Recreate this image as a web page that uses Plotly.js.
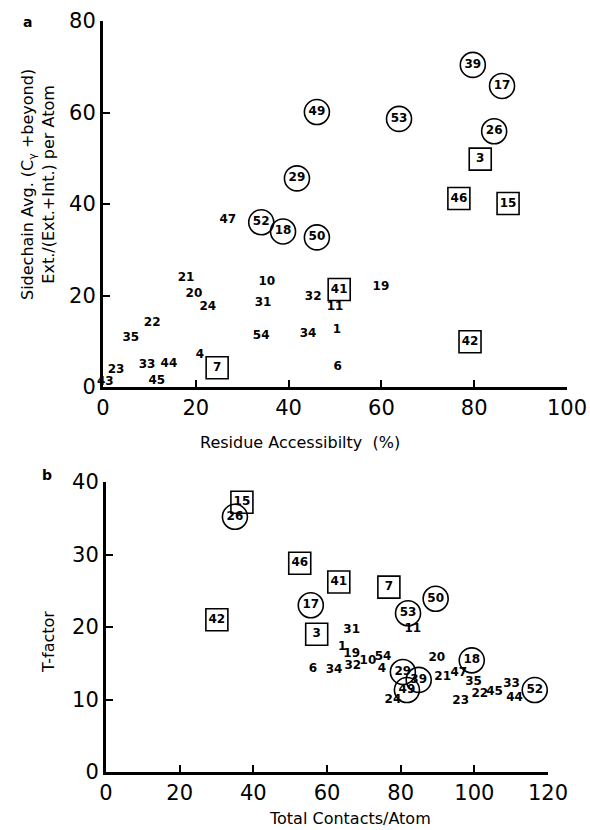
<!DOCTYPE html>
<html>
<head>
<meta charset="utf-8">
<script src="https://cdn.plot.ly/plotly-3.0.1.min.js"></script>
<style>html,body{margin:0;padding:0;background:#fff;}#chart{width:590px;height:830px;}</style>
</head>
<body>
<div id="chart"></div>
<script>
// Panel a: residue accessibility (%) vs sidechain exterior fraction
const aLabels = ["39","17","49","53","26","29","3","46","15","50","52","18","47","41","21","10","20","32","24","31","11","19","22","35","54","34","1","42","4","7","33","44","23","6","45","43"];
const aX      = [79.7, 86.0, 46.1, 63.8, 84.3, 41.8, 81.3, 76.7, 87.3, 46.1, 34.1, 38.8, 26.9, 50.9, 17.9, 35.3, 19.6, 45.3, 22.6, 34.5, 50.0, 59.9, 10.6, 6.0, 34.1, 44.2, 50.4, 79.1, 20.9, 24.6, 9.5, 14.2, 2.8, 50.6, 11.6, 0.5];
const aY      = [70.4, 65.8, 60.1, 58.6, 55.9, 45.6, 49.8, 41.2, 40.1, 32.7, 36.0, 34.0, 36.4, 21.3, 23.9, 23.0, 20.4, 19.7, 17.4, 18.4, 17.5, 21.8, 14.0, 10.8, 11.2, 11.6, 12.5, 9.9, 7.0, 4.2, 4.8, 5.0, 3.7, 4.4, 1.3, 1.0];
const aShape  = ["circle","circle","circle","circle","circle","circle","square","square","square","circle","circle","circle","none","square","none","none","none","none","none","none","none","none","none","none","none","none","none","square","none","square","none","none","none","none","none","none"];

// Panel b: total contacts per atom vs T-factor
const bLabels = ["15","26","46","41","7","17","50","53","42","3","31","11","1","19","20","18","54","10","32","34","6","4","29","39","21","47","35","49","24","23","22","45","33","44","52","49"];
const bX      = [36.9, 35.0, 52.6, 63.2, 76.8, 55.6, 89.5, 82.0, 30.1, 57.2, 66.7, 83.3, 64.1, 66.7, 89.8, 99.3, 75.2, 71.1, 67.0, 61.9, 56.2, 74.9, 80.6, 84.9, 91.4, 95.8, 99.8, 81.7, 77.9, 96.3, 101.5, 105.5, 110.1, 110.9, 116.4, 120.5];
const bY      = [37.2, 35.2, 28.8, 26.2, 25.5, 23.0, 23.9, 21.9, 21.0, 19.0, 19.6, 19.7, 17.3, 16.3, 15.7, 15.4, 15.9, 15.3, 14.6, 14.1, 14.2, 14.2, 13.8, 12.7, 13.1, 13.7, 12.4, 11.3, 9.9, 9.8, 10.7, 11.0, 12.1, 10.2, 11.3, 10.2];
const bShape  = ["square","circle","square","square","square","circle","circle","circle","square","square","none","none","none","none","none","circle","none","none","none","none","none","none","circle","circle","none","none","none","circle","none","none","none","none","none","none","circle","none"];

const aXTicks = [0, 20, 40, 60, 80, 100];
const aYTicks = [0, 20, 40, 60, 80];
const bXTicks = [0, 20, 40, 60, 80, 100, 120];
const bYTicks = [0, 10, 20, 30, 40];

const FONT = "DejaVu Sans, sans-serif";
const txtFont = {family: FONT, size: 12, color: "#000", weight: "bold"};

function pick(arr, shape, shapes) {
  return arr.filter((v, i) => shapes[i] === shape);
}

function makeTraces(labels, xs, ys, shapes, xa, ya) {
  const out = [];
  out.push({
    type: "scatter", mode: "text", xaxis: xa, yaxis: ya,
    x: pick(xs, "none", shapes), y: pick(ys, "none", shapes), text: pick(labels, "none", shapes),
    textposition: "middle center", textfont: txtFont, cliponaxis: false, hoverinfo: "skip", showlegend: false
  });
  out.push({
    type: "scatter", mode: "markers+text", xaxis: xa, yaxis: ya,
    x: pick(xs, "circle", shapes), y: pick(ys, "circle", shapes), text: pick(labels, "circle", shapes),
    marker: {symbol: "circle-open", size: 25, color: "#000", line: {width: 1.6, color: "#000"}},
    textposition: "middle center", textfont: txtFont, cliponaxis: false, hoverinfo: "skip", showlegend: false
  });
  out.push({
    type: "scatter", mode: "markers+text", xaxis: xa, yaxis: ya,
    x: pick(xs, "square", shapes), y: pick(ys, "square", shapes), text: pick(labels, "square", shapes),
    marker: {symbol: "square-open", size: 22, color: "#000", line: {width: 1.6, color: "#000"}},
    textposition: "middle center", textfont: txtFont, cliponaxis: false, hoverinfo: "skip", showlegend: false
  });
  return out;
}

const data = [].concat(
  makeTraces(aLabels, aX, aY, aShape, "x", "y"),
  makeTraces(bLabels, bX, bY, bShape, "x2", "y2")
);

const W = 590, H = 830;
const axBase = {
  showline: true, linewidth: 3, linecolor: "#000", mirror: false,
  showgrid: false, zeroline: false, ticks: "inside", ticklen: 7, tickwidth: 2, tickcolor: "#000",
  tickfont: {family: FONT, size: 21, color: "#000"}, tickmode: "array", fixedrange: true
};

const ann = (x, y, text, extra) => Object.assign({
  xref: "paper", yref: "paper", x: x / W, y: 1 - y / H, text: text, showarrow: false,
  xanchor: "center", yanchor: "middle", font: {family: FONT, size: 16, color: "#000"}
}, extra || {});

const layout = {
  width: W, height: H,
  margin: {l: 0, r: 0, t: 0, b: 0},
  paper_bgcolor: "#fff", plot_bgcolor: "#fff",
  showlegend: false,
  xaxis: Object.assign({}, axBase, {domain: [103 / W, 567 / W], range: [0, 100], tickvals: aXTicks, anchor: "y"}),
  yaxis: Object.assign({}, axBase, {domain: [1 - 387 / H, 1 - 21 / H], range: [0, 80], tickvals: aYTicks, anchor: "x"}),
  xaxis2: Object.assign({}, axBase, {domain: [106 / W, 548 / W], range: [0, 120], tickvals: bXTicks, anchor: "y2"}),
  yaxis2: Object.assign({}, axBase, {domain: [1 - 772 / H, 1 - 482 / H], range: [0, 40], tickvals: bYTicks, anchor: "x2"}),
  annotations: [
    ann(27, 22, "<b>a</b>", {font: {family: FONT, size: 14, color: "#000"}}),
    ann(47, 475, "<b>b</b>", {font: {family: FONT, size: 14, color: "#000"}}),
    ann(38, 185, "Sidechain Avg. (C<sub>γ</sub> +beyond)<br>Ext./(Ext.+Int.) per Atom", {textangle: -90}),
    ann(300, 442, "Residue Accessibilty  (%)"),
    ann(48, 642, "T-factor", {textangle: -90}),
    ann(350, 818, "Total Contacts/Atom")
  ]
};

Plotly.newPlot("chart", data, layout, {staticPlot: true, displayModeBar: false});
</script>
</body>
</html>
